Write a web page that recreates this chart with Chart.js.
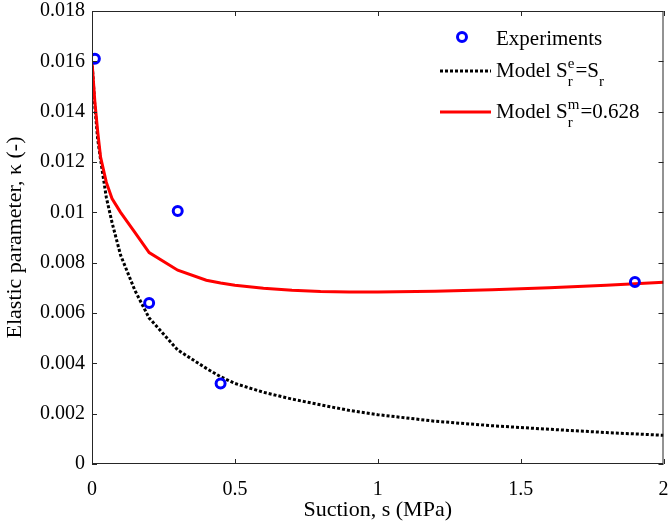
<!DOCTYPE html>
<html>
<head>
<meta charset="utf-8">
<script src="https://cdn.jsdelivr.net/npm/chart.js@4/dist/chart.umd.min.js"></script>
<style>
  html, body { margin: 0; padding: 0; background: #fff; }
  #wrap { width: 671px; height: 526px; }
</style>
</head>
<body>
<div id="wrap"><canvas id="chart" width="671" height="526"></canvas></div>
<script>
// experiments
const expSuction = [0.01, 0.2, 0.3, 0.45, 1.9];
const expKappa = [0.0161, 0.0064, 0.01005, 0.0032, 0.00723];

// model curves
const modelSuction = [0, 0.01, 0.02, 0.03, 0.05, 0.07, 0.1, 0.15, 0.2, 0.3, 0.4, 0.45, 0.5, 0.6, 0.7, 0.8, 0.9, 1.0, 1.2, 1.4, 1.6, 1.8, 2.0];
const kappaSrEqual = [0.0160, 0.0142, 0.0129, 0.0121, 0.0106, 0.0096, 0.0083, 0.0069, 0.0058, 0.00453, 0.0038, 0.00347, 0.0032, 0.00285, 0.00258, 0.00235, 0.00213, 0.00196, 0.00170, 0.00152, 0.00138, 0.00125, 0.00114];
const kappaSrm = [0.0160, 0.0144, 0.0132, 0.0122, 0.0112, 0.01055, 0.0100, 0.0092, 0.0084, 0.0077, 0.0073, 0.00719, 0.00710, 0.00698, 0.00690, 0.00685, 0.00683, 0.00683, 0.00686, 0.00692, 0.00700, 0.00710, 0.00722];

const xTicks = [0, 0.5, 1, 1.5, 2];
const yTicks = [0, 0.002, 0.004, 0.006, 0.008, 0.01, 0.012, 0.014, 0.016, 0.018];

const FONT = "'Liberation Serif', 'Times New Roman', serif";
const toPoints = (xs, ys) => xs.map((x, i) => ({ x: x, y: ys[i] }));

// box + inward ticks on all sides, like matlab
const boxPlugin = {
  id: 'box',
  afterDatasetsDraw(chart) {
    const { ctx, chartArea: a, scales } = chart;
    ctx.save();
    ctx.strokeStyle = '#262626';
    ctx.lineWidth = 1;
    ctx.strokeRect(a.left + 0.5, a.top + 0.5, a.right - a.left - 1, a.bottom - a.top - 1);
    const len = 5;
    ctx.beginPath();
    xTicks.forEach((v) => {
      const px = Math.round(scales.x.getPixelForValue(v)) + 0.5;
      ctx.moveTo(px, a.bottom); ctx.lineTo(px, a.bottom - len);
      ctx.moveTo(px, a.top); ctx.lineTo(px, a.top + len);
    });
    yTicks.forEach((v) => {
      const py = Math.round(scales.y.getPixelForValue(v)) + 0.5;
      ctx.moveTo(a.left, py); ctx.lineTo(a.left + len, py);
      ctx.moveTo(a.right, py); ctx.lineTo(a.right - len, py);
    });
    ctx.stroke();
    ctx.restore();
  },
};

// legend with sub/superscripts drawn by hand
const legendPlugin = {
  id: 'customLegend',
  afterDraw(chart) {
    const ctx = chart.ctx;
    ctx.save();
    const big = '21px ' + FONT;
    const small = '15px ' + FONT;
    const tx = 496;

    // Experiments
    ctx.strokeStyle = '#0000ff';
    ctx.lineWidth = 3;
    ctx.beginPath();
    ctx.arc(462, 37, 4.5, 0, Math.PI * 2);
    ctx.stroke();
    ctx.fillStyle = '#000';
    ctx.font = big;
    ctx.textBaseline = 'alphabetic';
    ctx.fillText('Experiments', tx, 45);

    // Model Sr^e = Sr
    ctx.strokeStyle = '#000';
    ctx.setLineDash([3, 2]);
    ctx.beginPath();
    ctx.moveTo(440, 71); ctx.lineTo(491, 71);
    ctx.stroke();
    ctx.setLineDash([]);
    let x = tx;
    const y2 = 77;
    ctx.font = big;
    ctx.fillText('Model S', x, y2);
    x += ctx.measureText('Model S').width;
    ctx.font = small;
    ctx.fillText('e', x, y2 - 9);
    ctx.fillText('r', x, y2 + 9);
    x += ctx.measureText('e').width + 1;
    ctx.font = big;
    ctx.fillText('=S', x, y2);
    x += ctx.measureText('=S').width;
    ctx.font = small;
    ctx.fillText('r', x, y2 + 9);

    // Model Sr^m = 0.628
    ctx.strokeStyle = '#ff0000';
    ctx.lineWidth = 3;
    ctx.beginPath();
    ctx.moveTo(440, 112); ctx.lineTo(491, 112);
    ctx.stroke();
    x = tx;
    const y3 = 118;
    ctx.font = big;
    ctx.fillText('Model S', x, y3);
    x += ctx.measureText('Model S').width;
    ctx.font = small;
    ctx.fillText('m', x, y3 - 9);
    ctx.fillText('r', x, y3 + 9);
    x += ctx.measureText('m').width + 1;
    ctx.font = big;
    ctx.fillText('=0.628', x, y3);
    ctx.restore();
  },
};

new Chart(document.getElementById('chart'), {
  type: 'scatter',
  data: {
    datasets: [
      {
        label: 'Experiments',
        data: toPoints(expSuction, expKappa),
        showLine: false,
        pointRadius: 4.5,
        pointBorderWidth: 3,
        pointBorderColor: '#0000ff',
        pointBackgroundColor: 'rgba(0,0,0,0)',
        order: 0,
      },
      {
        label: 'Model Sr^m=0.628',
        data: toPoints(modelSuction, kappaSrm),
        showLine: true,
        borderColor: '#ff0000',
        borderWidth: 3,
        pointRadius: 0,
        tension: 0,
        order: 1,
      },
      {
        label: 'Model Sr^e=Sr',
        data: toPoints(modelSuction, kappaSrEqual),
        showLine: true,
        borderColor: '#000000',
        borderWidth: 3,
        borderDash: [3, 2],
        pointRadius: 0,
        tension: 0,
        order: 2,
      },
    ],
  },
  options: {
    responsive: false,
    animation: false,
    layout: {
      padding: { left: 0, top: 11, right: 5, bottom: 0 },
    },
    scales: {
      x: {
        type: 'linear',
        min: 0,
        max: 2,
        afterBuildTicks: (scale) => { scale.ticks = xTicks.map((v) => ({ value: v })); },
        afterFit: (scale) => {
          scale.height = 62;
          scale.paddingLeft = 0;
          scale.paddingRight = 0;
        },
        grid: { display: false, drawTicks: false },
        border: { display: false },
        ticks: {
          padding: 14,
          color: '#000',
          font: { family: FONT, size: 20 },
          callback: (v) => String(v),
        },
        title: {
          display: true,
          text: 'Suction, s (MPa)',
          color: '#000',
          font: { family: FONT, size: 22 },
          padding: { top: 0, bottom: 3 },
        },
      },
      y: {
        type: 'linear',
        min: 0,
        max: 0.018,
        afterBuildTicks: (scale) => { scale.ticks = yTicks.map((v) => ({ value: v })); },
        afterFit: (scale) => {
          scale.width = 92;
          scale.paddingTop = 0;
          scale.paddingBottom = 0;
        },
        grid: { display: false, drawTicks: false },
        border: { display: false },
        ticks: {
          padding: 7,
          color: '#000',
          font: { family: FONT, size: 20 },
          callback: (v) => String(Number(v.toFixed(3))),
        },
        title: {
          display: true,
          text: 'Elastic parameter, κ (-)',
          color: '#000',
          font: { family: FONT, size: 22 },
          padding: { top: 2, bottom: 0 },
        },
      },
    },
    plugins: {
      legend: { display: false },
      tooltip: { enabled: false },
    },
  },
  plugins: [boxPlugin, legendPlugin],
});
</script>
</body>
</html>
